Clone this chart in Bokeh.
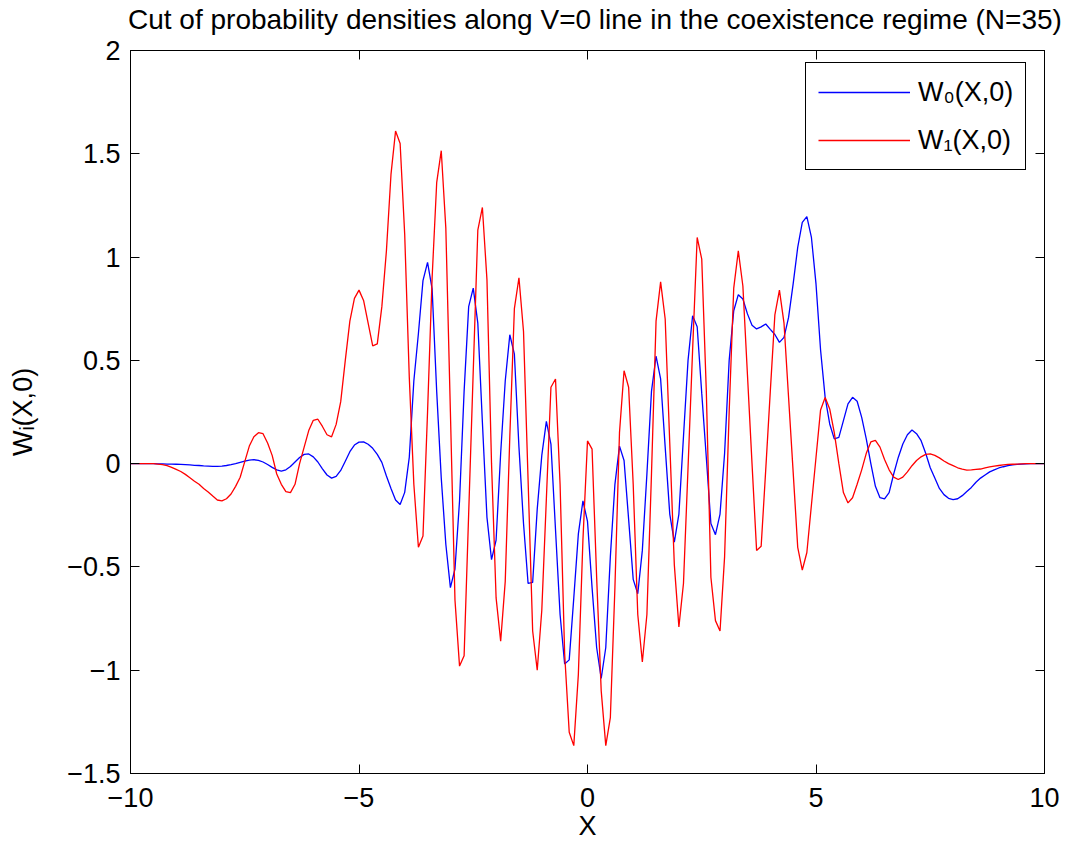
import numpy as np
from bokeh.plotting import figure
from bokeh.models import (LinearAxis, FixedTicker, CustomJSTickFormatter, Range1d, Div)
from bokeh.layouts import column
from bokeh.embed import file_html
from bokeh.resources import INLINE

# sample grid (dx = 0.1)
X = np.round(np.linspace(-10, 10, 201), 1)

# W0(X,0), one row per unit of X (x = k ... k+0.9)
W0 = [
    0, 0, 0, 0, 0, 0, -0.001, -0.001, -0.002, -0.002,
    -0.003, -0.004, -0.005, -0.006, -0.008, -0.009, -0.011, -0.012, -0.013, -0.013,
    -0.012, -0.009, -0.005, 0.0, 0.006, 0.012, 0.017, 0.019, 0.016, 0.008,
    -0.004, -0.018, -0.03, -0.036, -0.03, -0.014, 0.008, 0.03, 0.045, 0.047,
    0.033, 0.008, -0.025, -0.055, -0.07, -0.062, -0.033, 0.012, 0.058, 0.09,
    0.104, 0.105, 0.094, 0.074, 0.045, 0.006, -0.06, -0.12, -0.176, -0.198,
    -0.139, 0.03, 0.40, 0.63, 0.886, 0.974, 0.846, 0.35, -0.07, -0.39,
    -0.60, -0.51, -0.18, 0.35, 0.76, 0.85, 0.68, 0.2, -0.26, -0.465,
    -0.37, 0.05, 0.40, 0.624, 0.53, 0.08, -0.29, -0.58, -0.575, -0.22,
    0.04, 0.205, 0.095, -0.32, -0.73, -0.97, -0.95, -0.65, -0.34, -0.18,
    -0.28, -0.6, -0.89, -1.04, -0.89, -0.45, -0.1, 0.085, 0.015, -0.27,
    -0.56, -0.63, -0.42, -0.05, 0.35, 0.52, 0.41, 0.08, -0.244, -0.38,
    -0.244, 0.13, 0.5, 0.716, 0.663, 0.34, 0.03, -0.29, -0.344, -0.244,
    0.05, 0.5, 0.74, 0.818, 0.797, 0.725, 0.67, 0.652, 0.662, 0.676,
    0.65, 0.625, 0.587, 0.611, 0.708, 0.87, 1.047, 1.168, 1.196, 1.095,
    0.87, 0.55, 0.321, 0.192, 0.12, 0.127, 0.208, 0.289, 0.321, 0.302,
    0.224, 0.12, 0.0, -0.11, -0.165, -0.171, -0.14, -0.05, 0.03, 0.095,
    0.14, 0.163, 0.145, 0.111, 0.05, -0.02, -0.07, -0.12, -0.15, -0.168,
    -0.174, -0.17, -0.155, -0.135, -0.115, -0.09, -0.07, -0.055, -0.04, -0.03,
    -0.021, -0.015, -0.01, -0.006, -0.004, -0.002, -0.001, 0, 0, 0,
    0,
]

# W1(X,0)
W1 = [
    0, 0, 0, 0, 0, 0, -0.002, -0.005, -0.01, -0.018,
    -0.028, -0.038, -0.052, -0.068, -0.085, -0.1, -0.12, -0.137, -0.157, -0.176,
    -0.18, -0.17, -0.147, -0.11, -0.066, 0.01, 0.085, 0.13, 0.15, 0.145,
    0.1, 0.04, -0.05, -0.1, -0.135, -0.14, -0.1, 0.0, 0.08, 0.16,
    0.21, 0.215, 0.18, 0.14, 0.13, 0.19, 0.30, 0.5, 0.69, 0.80,
    0.84, 0.79, 0.68, 0.57, 0.58, 0.76, 1.03, 1.40, 1.61, 1.55,
    1.11, 0.42, -0.1, -0.405, -0.35, 0.25, 0.9, 1.36, 1.515, 1.14,
    0.25, -0.66, -0.98, -0.93, -0.24, 0.45, 1.13, 1.24, 0.89, 0.0,
    -0.65, -0.86, -0.57, 0.13, 0.75, 0.90, 0.64, -0.08, -0.81, -1.0,
    -0.71, -0.17, 0.37, 0.41, -0.1, -0.92, -1.30, -1.365, -1.02, -0.37,
    0.11, 0.07, -0.55, -1.10, -1.365, -1.23, -0.6, 0.15, 0.45, 0.37,
    -0.1, -0.73, -0.96, -0.73, -0.05, 0.69, 0.88, 0.70, 0.1, -0.49,
    -0.79, -0.58, -0.02, 0.55, 1.095, 0.99, 0.35, -0.55, -0.76, -0.81,
    -0.45, 0.25, 0.85, 1.03, 0.86, 0.43, 0.0, -0.42, -0.40, -0.03,
    0.35, 0.72, 0.84, 0.68, 0.32, -0.04, -0.405, -0.515, -0.43, -0.2,
    0.03, 0.26, 0.32, 0.265, 0.15, 0.0, -0.14, -0.19, -0.165, -0.1,
    -0.03, 0.05, 0.105, 0.113, 0.08, 0.02, -0.03, -0.065, -0.077, -0.065,
    -0.04, -0.01, 0.015, 0.033, 0.045, 0.047, 0.04, 0.028, 0.013, 0.0,
    -0.01, -0.02, -0.027, -0.031, -0.03, -0.028, -0.026, -0.021, -0.016, -0.012,
    -0.009, -0.006, -0.004, -0.003, -0.002, -0.001, 0, 0, 0, 0,
    0,
]

X_TICKS = [-10, -5, 0, 5, 10]
Y_TICKS = [-1.5, -1, -0.5, 0, 0.5, 1, 1.5, 2]
TITLE = "Cut of probability densities along V=0 line in the coexistence regime (N=35)"
XLABEL = "X"
YLABEL = "W\u1d62(X,0)"
LEG0 = "W\u2080(X,0)"
LEG1 = "W\u2081(X,0)"

FONT = "Liberation Sans"
FS = "27px"

TITLE_H = 36

title_div = Div(text=TITLE, width=1064, height=TITLE_H, margin=0,
                styles={"font-family": FONT, "font-size": "28px",
                        "line-height": "28px", "color": "black",
                        "white-space": "nowrap", "padding-left": "128px",
                        "padding-top": "6px", "box-sizing": "border-box",
                        "overflow": "hidden"})

p = figure(width=1064, height=843 - TITLE_H,
           x_range=Range1d(-10, 10), y_range=Range1d(-1.5, 2),
           output_backend="svg", toolbar_location=None, title_location=None,
           min_border_left=130, min_border_right=20,
           min_border_top=50 - TITLE_H, min_border_bottom=70)
p.margin = 0
p.background_fill_color = "white"
p.border_fill_color = "white"
p.outline_line_color = "black"
p.outline_line_width = 1
p.xgrid.visible = False
p.ygrid.visible = False

minus_fmt = "return String(tick).replace('-', '\u2212')"

def style_axis(ax, ticks, labels=True):
    ax.ticker = FixedTicker(ticks=ticks)
    ax.major_tick_in = 9
    ax.major_tick_out = 0
    ax.minor_tick_in = 0
    ax.minor_tick_out = 0
    ax.axis_line_color = "black"
    ax.major_tick_line_color = "black"
    ax.major_label_text_font = FONT
    ax.major_label_text_color = "black"
    if labels:
        ax.major_label_text_font_size = FS
        ax.formatter = CustomJSTickFormatter(code=minus_fmt)
    else:
        ax.major_label_text_font_size = "1px"
        ax.formatter = CustomJSTickFormatter(code="return ''")
        ax.major_label_standoff = 0

bx = p.xaxis[0]
style_axis(bx, X_TICKS)
bx.major_label_standoff = 14
bx.axis_label = XLABEL
bx.axis_label_text_font = FONT
bx.axis_label_text_font_size = FS
bx.axis_label_text_font_style = "normal"
bx.axis_label_text_color = "black"
bx.axis_label_standoff = 1

ly = p.yaxis[0]
style_axis(ly, Y_TICKS)
ly.major_label_standoff = 10
ly.axis_label = YLABEL
ly.axis_label_text_font = FONT
ly.axis_label_text_font_size = FS
ly.axis_label_text_font_style = "normal"
ly.axis_label_text_color = "black"
ly.axis_label_standoff = 26

top = LinearAxis()
style_axis(top, X_TICKS, labels=False)
p.add_layout(top, "above")
right = LinearAxis()
style_axis(right, Y_TICKS, labels=False)
p.add_layout(right, "right")

p.line(X, W0, line_color="#0000ff", line_width=1.3, legend_label=LEG0)
p.line(X, W1, line_color="#ff0000", line_width=1.3, legend_label=LEG1)

leg = p.legend[0]
leg.location = (675, 603)
leg.margin = 0
leg.padding = 12
leg.spacing = 14
leg.glyph_width = 92
leg.glyph_height = 34
leg.label_height = 34
leg.label_standoff = 8
leg.label_text_font = FONT
leg.label_text_font_size = FS
leg.label_text_color = "black"
leg.border_line_color = "black"
leg.border_line_width = 1
leg.border_line_alpha = 1
leg.background_fill_color = "white"
leg.background_fill_alpha = 1

layout = column(title_div, p, spacing=0, margin=0)
open("out.html", "w").write(file_html(layout, INLINE))
